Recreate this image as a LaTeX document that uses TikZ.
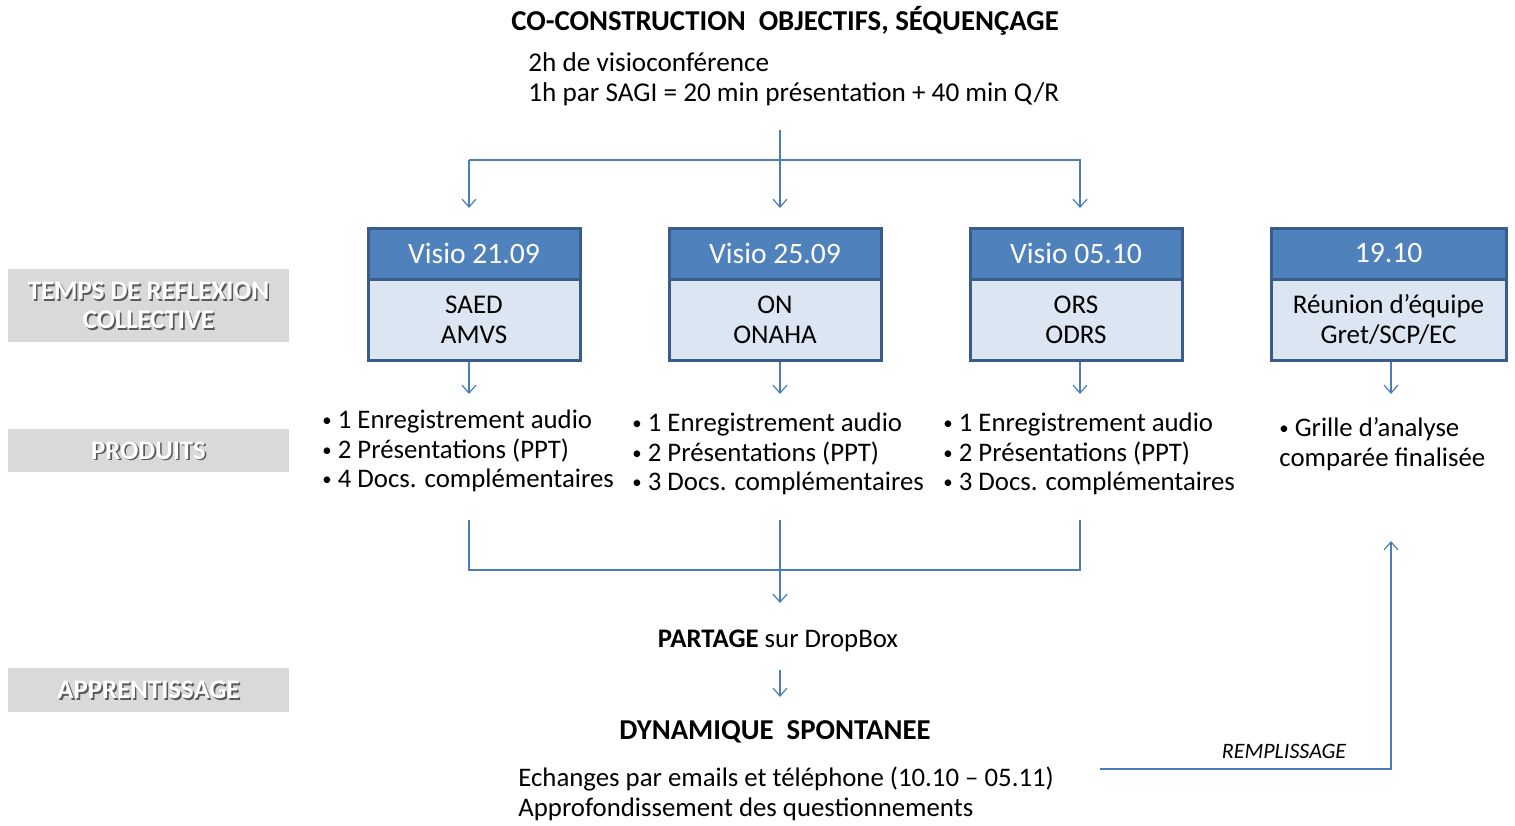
\documentclass[tikz,border=0pt]{standalone}
\usepackage{fontspec}
\setmainfont{Carlito}
\usetikzlibrary{arrows.meta}
\definecolor{hdrblue}{HTML}{4F81BD}
\definecolor{hdrborder}{HTML}{385D8A}
\definecolor{bodyblue}{HTML}{DCE6F2}
\definecolor{linkblue}{HTML}{4A7EBB}
\definecolor{lblgray}{HTML}{D9D9D9}
\newcommand\bul{\raisebox{0.15ex}{\scalebox{0.7}{•}}\ }
\tikzset{
  txt/.style={font=\fontsize{13.4}{14.8}\selectfont, inner sep=0pt},
  hdr/.style={draw=hdrborder, line width=1.5pt, fill=hdrblue, text=white, minimum height=25.5pt, font=\fontsize{14.8}{16}\selectfont, inner sep=0pt},
  body/.style={draw=hdrborder, line width=1.5pt, fill=bodyblue, minimum height=40.5pt, align=center, font=\fontsize{13.5}{15}\selectfont, inner sep=0pt},
  lbl/.style={fill=lblgray, minimum width=140.5pt, inner sep=0pt},
  lbltxt/.style={text=white, font=\fontsize{13.4}{14.5}\bfseries\selectfont, align=center, inner sep=0pt},
  lblshadow/.style={text=black!65, font=\fontsize{13.4}{14.5}\bfseries\selectfont, align=center, inner sep=0pt},
  link/.style={draw=linkblue, line width=0.6pt},
  arr/.style={link, -{Straight Barb[length=4pt, width=7pt]}},
  list/.style={txt, align=left, anchor=west},
}
\begin{document}
\begin{tikzpicture}[x=0.5pt, y=-0.5pt]
\useasboundingbox (0,0) rectangle (1515,825);

% title and info
\node[txt, font=\fontsize{14.4}{16}\bfseries\selectfont] (title) at (785,21) {CO-CONSTRUCTION\ \ OBJECTIFS, SÉQUENÇAGE};
\node[txt, font=\fontsize{13.6}{15.2}\selectfont, align=left, anchor=west] (info) at (528,79) {2h de visioconférence\\1h par SAGI = 20 min présentation + 40 min Q/R};

% left labels
\node[lbl, minimum height=36.5pt] (l1) at (148.5,305.5) {};
\node[lblshadow] at ([shift={(1.6,1.8)}]l1.center) {TEMPS DE REFLEXION\\COLLECTIVE};
\node[lbltxt] (l1t) at (l1.center) {TEMPS DE REFLEXION\\COLLECTIVE};
\node[lbl, minimum height=21.5pt] (l2) at (148.5,450.5) {};
\node[lblshadow] at ([shift={(1.6,1.8)}]l2.center) {PRODUITS};
\node[lbltxt] (l2t) at (l2.center) {PRODUITS};
\node[lbl, minimum height=22pt] (l3) at (148.5,690) {};
\node[lblshadow] at ([shift={(1.6,1.8)}]l3.center) {APPRENTISSAGE};
\node[lbltxt] (l3t) at (l3.center) {APPRENTISSAGE};

% boxes
\node[hdr, minimum width=106pt] (h1) at (474,253.5) {Visio 21.09};
\node[body, minimum width=106pt] (b1) at (474,319.5) {SAED\\AMVS};
\node[hdr, minimum width=106pt] (h2) at (775,253.5) {Visio 25.09};
\node[body, minimum width=106pt] (b2) at (775,319.5) {ON\\ONAHA};
\node[hdr, minimum width=106pt] (h3) at (1076,253.5) {Visio 05.10};
\node[body, minimum width=106pt] (b3) at (1076,319.5) {ORS\\ODRS};
\node[hdr, minimum width=117.5pt] (h4) at (1388.5,253.5) {19.10};
\node[body, minimum width=117.5pt] (b4) at (1388.5,319.5) {Réunion d’équipe\\Gret/SCP/EC};

% product lists
\node[list] (p1) at (322,451) {\bul 1 Enregistrement audio\\\bul 2 Présentations (PPT)\\\bul 4 Docs. complémentaires};
\node[list] (p2) at (632,454) {\bul 1 Enregistrement audio\\\bul 2 Présentations (PPT)\\\bul 3 Docs. complémentaires};
\node[list] (p3) at (943,454) {\bul 1 Enregistrement audio\\\bul 2 Présentations (PPT)\\\bul 3 Docs. complémentaires};
\node[list] (p4) at (1279,444) {\bul Grille d’analyse\\comparée finalisée};

% lower texts
\node[txt] (partage) at (778,641) {\textbf{PARTAGE} sur DropBox};
\node[txt, font=\fontsize{14.4}{16}\bfseries\selectfont] (dyn) at (775,732) {DYNAMIQUE\ \ SPONTANEE};
\node[txt, align=left, anchor=west] (ech) at (518,794) {Echanges par emails et téléphone (10.10 – 05.11)\\Approfondissement des questionnements};
\node[txt, font=\fontsize{11}{13}\itshape\selectfont] (rem) at (1284,751) {REMPLISSAGE};

% coordinates
\coordinate (top) at (780,130);
\coordinate (fork) at (780,160);
\coordinate (f1) at (469,160);
\coordinate (f3) at (1080,160);
\coordinate (a1) at (469,208);
\coordinate (a2) at (780,208);
\coordinate (a3) at (1080,208);
\coordinate (d1s) at (469,362);
\coordinate (d2s) at (780,362);
\coordinate (d3s) at (1080,362);
\coordinate (d4s) at (1391,362);
\coordinate (d1e) at (469,394);
\coordinate (d2e) at (780,394);
\coordinate (d3e) at (1080,394);
\coordinate (d4e) at (1391,394);
\coordinate (m1) at (469,520);
\coordinate (m2) at (780,520);
\coordinate (m3) at (1080,520);
\coordinate (j1) at (469,570);
\coordinate (j2) at (780,570);
\coordinate (j3) at (1080,570);
\coordinate (je) at (780,603);
\coordinate (s1) at (780,670);
\coordinate (s2) at (780,697);
\coordinate (r0) at (1100,769);
\coordinate (r1) at (1391,769);
\coordinate (r2) at (1391,541);

% connectors
\draw[arr] (top) -- (a2);
\draw[arr] (f1) -- (f3) -- (a3);
\draw[arr] (f1) -- (a1);
\draw[arr] (d1s) -- (d1e);
\draw[arr] (d2s) -- (d2e);
\draw[arr] (d3s) -- (d3e);
\draw[arr] (d4s) -- (d4e);
\draw[link] (m1) -- (j1) -- (j3) -- (m3);
\draw[arr] (m2) -- (je);
\draw[arr] (s1) -- (s2);
\draw[arr] (r0) -- (r1) -- (r2);
\end{tikzpicture}
\end{document}
